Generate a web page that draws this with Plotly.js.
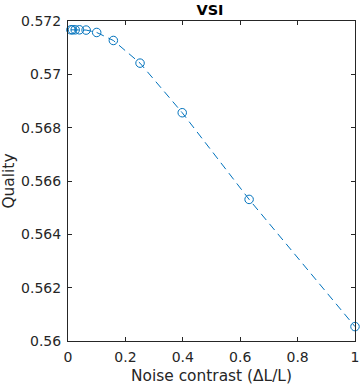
<!DOCTYPE html>
<html>
<head>
<meta charset="utf-8">
<script src="https://cdn.plot.ly/plotly-3.0.1.min.js"></script>
<style>html,body{margin:0;padding:0;background:#fff;}#chart{width:362px;height:385px;}</style>
</head>
<body>
<div id="chart"></div>
<script>
const noiseContrast = [0.01, 0.0158, 0.0251, 0.0398, 0.0631, 0.1, 0.158, 0.251, 0.398, 0.631, 1.0];
const quality = [0.57167, 0.57167, 0.57167, 0.57167, 0.57166, 0.57157, 0.57127, 0.57042, 0.56856, 0.56531, 0.56054];
const xTicks = [0, 0.2, 0.4, 0.6, 0.8, 1];
const xTickLabels = ['0', '0.2', '0.4', '0.6', '0.8', '1'];
const yTicks = [0.56, 0.562, 0.564, 0.566, 0.568, 0.57, 0.572];
const yTickLabels = ['0.56', '0.562', '0.564', '0.566', '0.568', '0.57', '0.572'];

const axisColor = '#262626';
const fontFam = 'DejaVu Sans, sans-serif';

const trace = {
  x: noiseContrast, y: quality, type: 'scatter', mode: 'lines+markers',
  line: {color: '#0072BD', width: 1, dash: '8px,5px'},
  marker: {symbol: 'circle-open', size: 8.5, color: '#0072BD', line: {width: 1, color: '#0072BD'}},
  cliponaxis: false, hoverinfo: 'none'
};

const axisCommon = {
  showline: true, linecolor: axisColor, linewidth: 1, mirror: 'ticks',
  ticks: 'inside', ticklen: 4, tickcolor: axisColor, tickwidth: 1,
  showgrid: false, zeroline: false,
  tickfont: {family: fontFam, size: 14, color: axisColor},
  ticklabelstandoff: 3
};

const layout = {
  width: 362, height: 385,
  margin: {l: 68, r: 7, t: 21, b: 44},
  paper_bgcolor: '#fff', plot_bgcolor: '#fff',
  showlegend: false,
  title: {text: '<b>VSI</b>', font: {family: fontFam, size: 14.5, color: '#000'}, x: 0.58, xanchor: 'center', y: 0.975, yanchor: 'middle', yref: 'container'},
  xaxis: Object.assign({}, axisCommon, {
    range: [0, 1], tickvals: xTicks, ticktext: xTickLabels,
    title: {text: 'Noise contrast (ΔL/L)', font: {family: fontFam, size: 15.4, color: axisColor}, standoff: 7}
  }),
  yaxis: Object.assign({}, axisCommon, {
    range: [0.56, 0.572], tickvals: yTicks, ticktext: yTickLabels,
    title: {text: 'Quality', font: {family: fontFam, size: 15.4, color: axisColor}, standoff: 5}
  })
};

Plotly.newPlot('chart', [trace], layout, {staticPlot: true, displayModeBar: false});
</script>
</body>
</html>
